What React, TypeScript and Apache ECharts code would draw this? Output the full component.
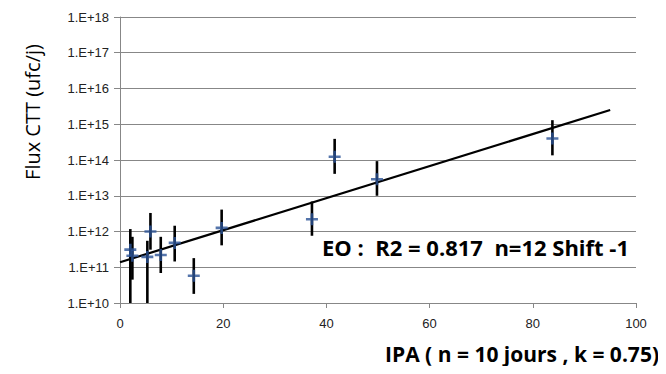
import React, { useEffect, useRef } from "react";
import * as echarts from "echarts";

const ipa = [2.0, 2.4, 5.3, 5.9, 7.9, 10.6, 14.3, 19.7, 37.2, 41.6, 49.8, 83.8];
const flux = [3.1e11, 2.1e11, 1.95e11, 1.0e12, 2.2e11, 4.8e11, 5.8e10, 1.26e12, 2.2e12, 1.23e14, 2.9e13, 4.0e14];
const fluxLow = [1e10, 4.5e10, 1e10, 3.1e11, 6.9e10, 1.45e11, 1.8e10, 4.1e11, 7.6e11, 4.1e13, 1.0e13, 1.35e14];
const fluxHigh = [1.17e12, 7.1e11, 5.5e11, 3.3e12, 7.1e11, 1.45e12, 1.8e11, 4.1e12, 6.9e12, 3.9e14, 9.3e13, 1.3e15];
const trendX = [0, 95];
const trendY = [1.38e11, 2.5e15];
const xTicks = [0, 20, 40, 60, 80, 100];
const annotation = "EO :  R2 = 0.817  n=12 Shift -1";
const xName = "IPA ( n = 10 jours , k = 0.75)";
const yName = "Flux CTT (ufc/j)";

const GRID = "#878787";
const BLUE = "#2A5396";
const FONT = "'Liberation Sans', 'Open Sans', sans-serif";
const TFONT = "'Open Sans', sans-serif";

export default function App() {
  const ref = useRef<HTMLDivElement>(null);
  useEffect(() => {
    if (!ref.current) return;
    const chart = echarts.init(ref.current, undefined, { renderer: "svg" });
    const points = ipa.map((x, i) => [x, flux[i]]);
    const bars = ipa.map((x, i) => [x, fluxLow[i], fluxHigh[i]]);
    chart.setOption({
      animation: false,
      backgroundColor: "#ffffff",
      grid: { left: 120, right: 30, top: 17, bottom: 71, containLabel: false },
      xAxis: {
        type: "value",
        min: xTicks[0],
        max: xTicks[xTicks.length - 1],
        interval: 20,
        axisLine: { show: true, lineStyle: { color: GRID, width: 1 } },
        axisTick: { show: true, length: 5, lineStyle: { color: GRID } },
        splitLine: { show: false },
        axisLabel: { color: "#222", fontSize: 13, fontFamily: FONT, margin: 14 },
      },
      yAxis: {
        type: "log",
        logBase: 10,
        min: 1e10,
        max: 1e18,
        interval: 1,
        axisLine: { show: true, lineStyle: { color: GRID, width: 1 } },
        axisTick: { show: true, length: 6, lineStyle: { color: GRID } },
        splitLine: { show: true, lineStyle: { color: GRID, width: 1 } },
        axisLabel: {
          color: "#222",
          fontSize: 13,
          fontFamily: FONT,
          margin: 11,
          formatter: (v: number) => "1.E+" + Math.round(Math.log10(v)),
        },
      },
      series: [
        {
          type: "line",
          data: trendX.map((x, i) => [x, trendY[i]]),
          showSymbol: false,
          symbol: "none",
          lineStyle: { color: "#000", width: 2.2 },
          z: 2,
        },
        {
          type: "custom",
          data: bars,
          clip: true,
          z: 3,
          renderItem: (params: any, api: any) => {
            const x = api.value(0);
            const p1 = api.coord([x, api.value(1)]);
            const p2 = api.coord([x, api.value(2)]);
            return {
              type: "line",
              shape: { x1: p1[0], y1: p1[1], x2: p2[0], y2: p2[1] },
              style: { stroke: "#000", lineWidth: 2.6 },
            };
          },
        },
        {
          type: "scatter",
          data: points,
          symbol: "path://M3.9,0 H6.1 V3.9 H10 V6.1 H6.1 V10 H3.9 V6.1 H0 V3.9 H3.9 Z",
          symbolSize: 12,
          itemStyle: { color: BLUE },
          z: 4,
        },
      ],
      graphic: [
        {
          type: "text",
          left: 322,
          top: 236,
          style: {
            text: annotation,
            font: "bold 22px " + TFONT,
            fill: "#000",
          },
        },
        {
          type: "text",
          right: 7,
          top: 343,
          style: {
            text: xName,
            font: "bold 21px " + TFONT,
            fill: "#000",
          },
        },
        {
          type: "text",
          x: 32,
          y: 112,
          rotation: Math.PI / 2,
          style: {
            text: yName,
            font: "20px " + TFONT,
            fill: "#000",
            align: "center",
            verticalAlign: "middle",
          },
        },
      ],
    });
    return () => chart.dispose();
  }, []);
  return <div ref={ref} style={{ width: 666, height: 374, margin: -8 }} />;
}
